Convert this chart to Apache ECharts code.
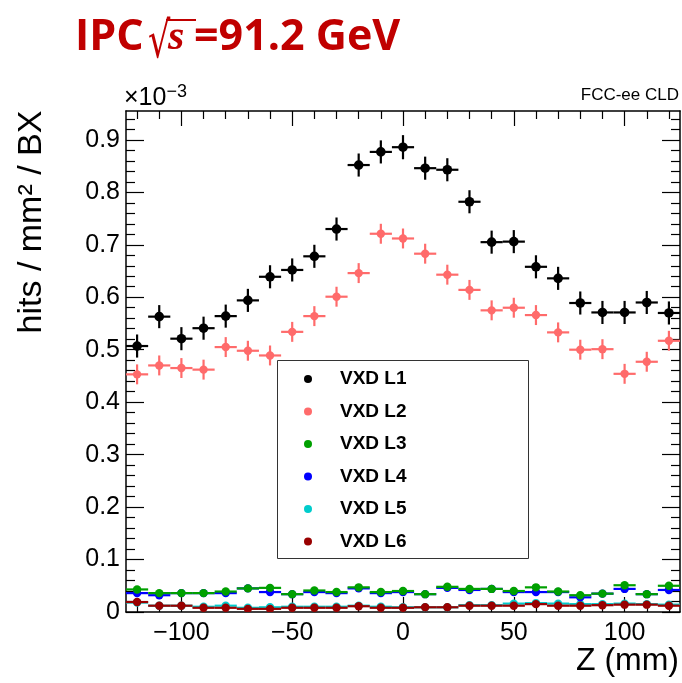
<!DOCTYPE html>
<html>
<head>
<meta charset="utf-8">
<script src="https://cdn.jsdelivr.net/npm/echarts@6/dist/echarts.min.js"></script>
<style>
html,body{margin:0;padding:0;background:#fff;}
#chart{width:682px;height:683px;}
</style>
</head>
<body>
<div id="chart"></div>
<script>
// ---- data (values in units of 1e-3 hits / mm^2 / BX) ----
const zCenters = [-120,-110,-100,-90,-80,-70,-60,-50,-40,-30,-20,-10,0,10,20,30,40,50,60,70,80,90,100,110,120];
const binHalfWidth = 5;

const vxdL1 = [0.507,0.563,0.521,0.541,0.564,0.594,0.639,0.652,0.678,0.730,0.852,0.877,0.886,0.846,0.843,0.782,0.705,0.706,0.658,0.636,0.589,0.571,0.571,0.590,0.570];
const vxdL1Err = [0.022,0.022,0.022,0.022,0.022,0.022,0.022,0.022,0.022,0.022,0.022,0.022,0.023,0.022,0.022,0.022,0.022,0.022,0.022,0.022,0.022,0.022,0.022,0.022,0.022];
const vxdL2 = [0.453,0.470,0.465,0.462,0.505,0.498,0.489,0.534,0.564,0.601,0.646,0.721,0.712,0.683,0.643,0.614,0.575,0.580,0.566,0.533,0.500,0.501,0.454,0.477,0.517];
const vxdL2Err = [0.019,0.019,0.019,0.019,0.019,0.019,0.019,0.019,0.019,0.019,0.019,0.019,0.019,0.019,0.019,0.019,0.019,0.019,0.019,0.019,0.019,0.019,0.019,0.019,0.019];
const vxdL3 = [0.043,0.036,0.036,0.036,0.039,0.045,0.046,0.034,0.041,0.038,0.047,0.038,0.040,0.034,0.048,0.044,0.044,0.040,0.047,0.039,0.032,0.035,0.051,0.034,0.050];
const vxdL4 = [0.036,0.032,0.036,0.036,0.036,0.045,0.038,0.034,0.038,0.036,0.045,0.036,0.038,0.034,0.046,0.042,0.044,0.038,0.038,0.038,0.028,0.035,0.044,0.034,0.042];
const vxdL5 = [0.018,0.012,0.012,0.010,0.012,0.008,0.009,0.010,0.010,0.010,0.012,0.010,0.009,0.009,0.009,0.013,0.013,0.016,0.017,0.016,0.015,0.015,0.016,0.015,0.014];
const vxdL6 = [0.019,0.012,0.012,0.008,0.008,0.006,0.006,0.008,0.008,0.008,0.011,0.008,0.008,0.009,0.009,0.012,0.012,0.012,0.015,0.012,0.012,0.013,0.014,0.014,0.012];
const lowErr = [0.004,0.004,0.004,0.004,0.004,0.004,0.004,0.004,0.004,0.004,0.004,0.004,0.004,0.004,0.004,0.004,0.004,0.004,0.004,0.004,0.004,0.004,0.004,0.004,0.004];

const seriesNames = ['VXD L1','VXD L2','VXD L3','VXD L4','VXD L5','VXD L6'];
const seriesColors = ['#000000','#ff6b6b','#00a000','#0000ff','#00cccc','#990000'];

// tick positions / labels
const xMajorTicks = [-100,-50,0,50,100];
const xMinorTicks = [-120,-110,-90,-80,-70,-60,-40,-30,-20,-10,10,20,30,40,60,70,80,90,110,120];
const yMajorTicks = [0,0.1,0.2,0.3,0.4,0.5,0.6,0.7,0.8,0.9];
const yMinorTicks = [0.02,0.04,0.06,0.08,0.12,0.14,0.16,0.18,0.22,0.24,0.26,0.28,0.32,0.34,0.36,0.38,0.42,0.44,0.46,0.48,0.52,0.54,0.56,0.58,0.62,0.64,0.66,0.68,0.72,0.74,0.76,0.78,0.82,0.84,0.86,0.88,0.92,0.94];

const X_MIN = -125, X_MAX = 125, Y_MIN = 0, Y_MAX = 0.955;

function build(vals, errs){
  return zCenters.map((z,i)=>[z, vals[i], errs[i]]);
}

function makeRender(radius, lw){
  return function(params, api){
    const x = api.value(0), y = api.value(1), e = api.value(2);
    const c = api.coord([x, y]);
    const l = api.coord([x - binHalfWidth, y]);
    const r = api.coord([x + binHalfWidth, y]);
    const t = api.coord([x, y + e]);
    const b = api.coord([x, y - e]);
    const color = api.visual('color');
    return {type:'group', children:[
      {type:'line', shape:{x1:l[0],y1:l[1],x2:r[0],y2:r[1]}, style:{stroke:color,lineWidth:lw}},
      {type:'line', shape:{x1:t[0],y1:t[1],x2:b[0],y2:b[1]}, style:{stroke:color,lineWidth:lw}},
      {type:'circle', shape:{cx:c[0],cy:c[1],r:radius}, style:{fill:color}}
    ]};
  };
}

const allVals = [vxdL1,vxdL2,vxdL3,vxdL4,vxdL5,vxdL6];
const allErrs = [vxdL1Err,vxdL2Err,lowErr,lowErr,lowErr,lowErr];
const zOrder = [6,5,4,3,2,5];
const series = allVals.map((v,i)=>({
  type:'custom',
  name: seriesNames[i],
  xAxisIndex:0, yAxisIndex:0,
  itemStyle:{color: seriesColors[i]},
  renderItem: makeRender(i===0?4.8:4.2, 2.2),
  data: build(v, allErrs[i]),
  encode:{x:0,y:1},
  z: zOrder[i],
  clip:true
}));

const axisLineStyle = {color:'#000', width:1.5};
const tickStyle = {color:'#000', width:1.2};
const font = 'Liberation Sans, Arial, Helvetica, sans-serif';

function xAx(pos, ticks, len, labels, showLine){
  return {
    type:'value', min:X_MIN, max:X_MAX, position:pos,
    axisLine:{show:showLine, onZero:false, lineStyle:axisLineStyle},
    axisTick:{show:true, inside:true, length:len, customValues:ticks, lineStyle:tickStyle},
    axisLabel:labels ? {show:true, customValues:xMajorTicks, color:'#000', fontSize:25, fontFamily:font, margin:9,
      formatter:(v)=> v<0 ? '\u2212'+Math.abs(v) : String(v)} : {show:false},
    splitLine:{show:false}
  };
}
function yAx(pos, ticks, len, labels, showLine){
  return {
    type:'value', min:Y_MIN, max:Y_MAX, position:pos,
    axisLine:{show:showLine, onZero:false, lineStyle:axisLineStyle},
    axisTick:{show:true, inside:true, length:len, customValues:ticks, lineStyle:tickStyle},
    axisLabel:labels ? {show:true, customValues:yMajorTicks, color:'#000', fontSize:25, fontFamily:font, margin:6,
      formatter:(v)=> v===0 ? '0' : v.toFixed(1)} : {show:false},
    splitLine:{show:false}
  };
}

const titleColor = '#c00000';
const chart = echarts.init(document.getElementById('chart'), null, {renderer:'canvas'});
chart.setOption({
  animation:false,
  backgroundColor:'#fff',
  grid:{left:126, right:2, top:111, bottom:71, containLabel:false},
  xAxis:[
    xAx('bottom', xMajorTicks, 15, true, true),
    xAx('bottom', xMinorTicks, 8, false, false),
    xAx('top', xMajorTicks, 15, false, true),
    xAx('top', xMinorTicks, 8, false, false)
  ],
  yAxis:[
    yAx('left', yMajorTicks, 18, true, true),
    yAx('left', yMinorTicks, 9, false, false),
    yAx('right', yMajorTicks, 18, false, true),
    yAx('right', yMinorTicks, 9, false, false)
  ],
  legend:{
    show:true, orient:'vertical', left:304, top:369, padding:0,
    itemWidth:8, itemHeight:8, itemGap:12.5,
    data: seriesNames.map((n,i)=>({name:n, icon:'circle', itemStyle:{color:seriesColors[i]}})),
    textStyle:{fontSize:19, fontWeight:'bold', fontFamily:font, color:'#000', lineHeight:20, padding:[0,0,0,23]},
    selectedMode:false
  },
  graphic:[
    {type:'rect', left:277, top:360, shape:{width:251, height:198}, style:{fill:'#fff', stroke:'#333', lineWidth:1}, z:1},
    {type:'text', x:75, y:38, z:10,
      style:{text:'IPC', fontFamily:'Open Sans', fontWeight:'bold', fontSize:43, fill:titleColor, verticalAlign:'middle'}
    },
    {type:'text', x:148, y:44, z:10, scaleX:0.7,
      style:{text:'\u221A', fontFamily:'DejaVu Sans', fontSize:50, fill:titleColor, verticalAlign:'middle'}
    },
    {type:'line', shape:{x1:166, y1:20, x2:196, y2:20}, style:{stroke:titleColor, lineWidth:2}, z:10},
    {type:'text', x:168, y:38, z:10,
      style:{text:'s', fontFamily:'Liberation Serif', fontStyle:'italic', fontWeight:'bold', fontSize:42, fill:titleColor, verticalAlign:'middle'}
    },
    {type:'text', x:194, y:38, z:10,
      style:{text:'=91.2 GeV', fontFamily:'Open Sans', fontWeight:'bold', fontSize:43, fill:titleColor, verticalAlign:'middle'}
    },
    {type:'text', left:124, top:83, z:10,
      style:{
        text:'{a|\u00D710}{b|\u22123}',
        rich:{
          a:{fontFamily:font, fontSize:25, fill:'#000'},
          b:{fontFamily:font, fontSize:18, fill:'#000', padding:[0,0,12,0]}
        }
      }
    },
    {type:'text', right:3, top:87, z:10, style:{text:'FCC-ee CLD', fontFamily:font, fontSize:17, fill:'#000'}},
    {type:'text', right:3, top:645, z:10, style:{text:'Z (mm)', fontFamily:font, fontSize:32, fill:'#000'}},
    {type:'text', x:32, y:222, rotation:Math.PI/2, z:10,
      style:{text:'hits / mm\u00B2 / BX', fontFamily:font, fontSize:34, fill:'#000', align:'center', verticalAlign:'middle'}}
  ],
  series: series
});
</script>
</body>
</html>
